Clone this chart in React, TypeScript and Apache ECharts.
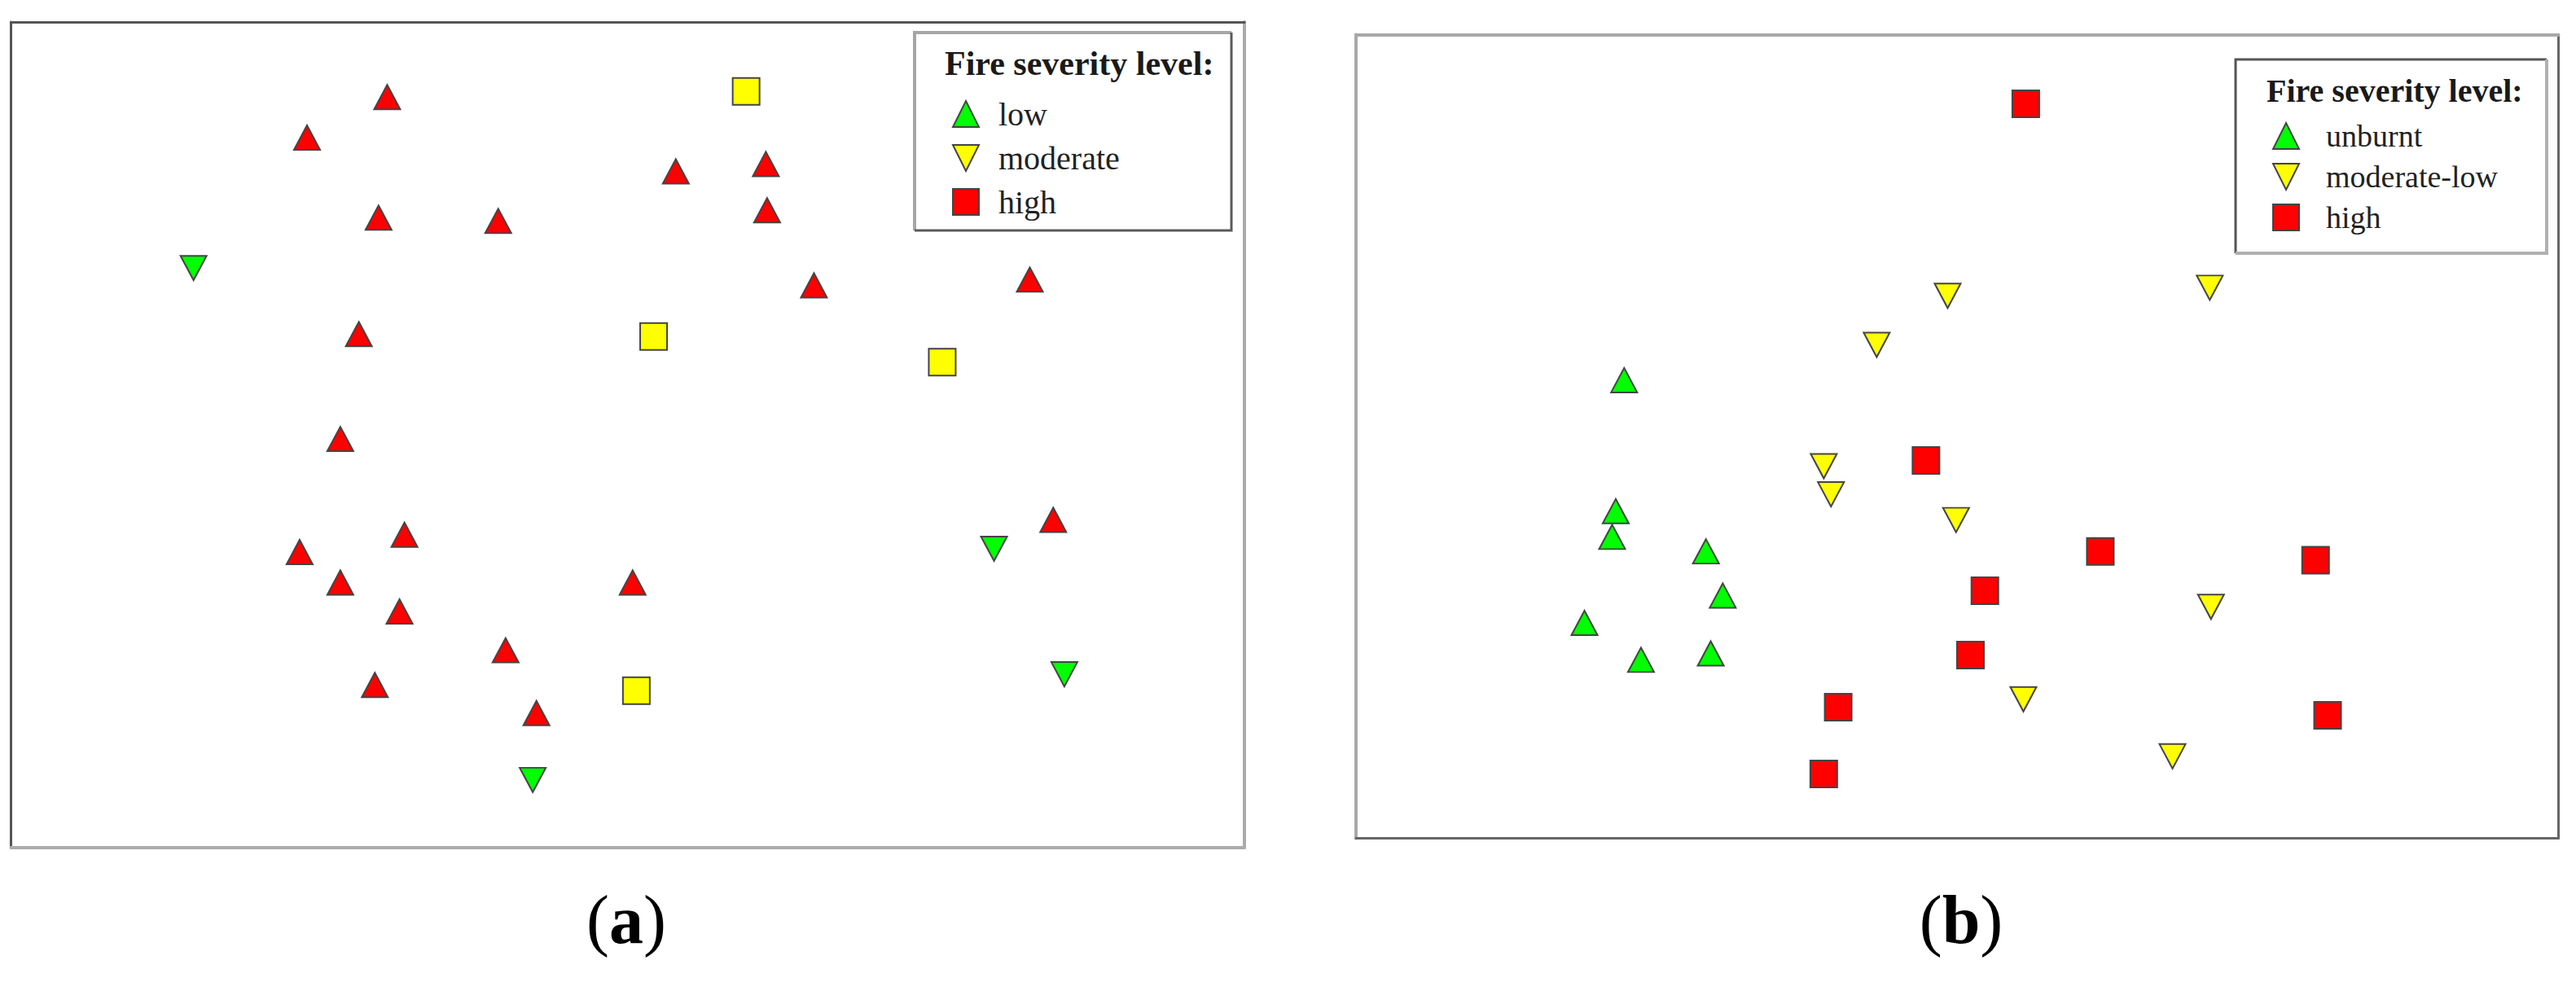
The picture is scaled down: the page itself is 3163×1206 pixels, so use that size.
import React, { useEffect, useRef } from "react";
import * as echarts from "echarts";

// Panel (a): ordination scores (0-100 scaled axes)
const aLow: [number, number][] = [
  [14.8, 70.2], [79.7, 36.2], [85.4, 21.0], [42.3, 8.2],
];
const aModerate: [number, number][] = [
  [59.6, 91.6], [52.1, 61.9], [75.5, 58.8], [50.7, 19.0],
];
const aHigh: [number, number][] = [
  [30.5, 90.9], [24.0, 86.0], [29.8, 76.3], [39.5, 75.9], [53.9, 81.9],
  [61.2, 82.8], [61.3, 77.2], [65.1, 68.1], [82.6, 68.8], [28.2, 62.2],
  [26.7, 49.5], [31.9, 37.9], [23.4, 35.8], [26.7, 32.1], [31.5, 28.6],
  [50.4, 32.1], [40.1, 23.9], [29.5, 19.7], [42.6, 16.3], [84.5, 39.7],
];

// Panel (b)
const bUnburnt: [number, number][] = [
  [22.3, 57.0], [21.6, 40.7], [21.3, 37.5], [29.1, 35.7],
  [30.5, 30.2], [19.0, 26.8], [23.7, 22.2], [29.5, 23.0],
];
const bModerateLow: [number, number][] = [
  [49.2, 67.5], [43.3, 61.4], [71.0, 68.5], [38.9, 46.3], [39.5, 42.8],
  [49.9, 39.6], [71.1, 28.8], [55.5, 17.3], [67.9, 10.2],
];
const bHigh: [number, number][] = [
  [55.7, 91.4], [47.4, 47.0], [61.9, 35.7], [52.3, 30.8], [79.8, 34.6],
  [51.1, 22.8], [40.1, 16.3], [38.9, 8.0], [80.8, 15.3],
];

const aLegendNames = ["low", "moderate", "high"];
const bLegendNames = ["unburnt", "moderate-low", "high"];
const legendTitle = "Fire severity level:";
const captions = ["a", "b"];

const DOWN_TRI = "path://M0,0L20,0L10,20Z";
const SERIF = "'Liberation Serif', 'Times New Roman', serif";
const GREEN = "#00ff00";
const YELLOW = "#ffff00";
const RED = "#ff0000";

function axis(gridIndex: number, position: string, color: string, width: number) {
  return {
    type: "value",
    gridIndex,
    position,
    min: 0,
    max: 100,
    axisLine: { show: true, onZero: false, lineStyle: { color, width } },
    axisTick: { show: false },
    axisLabel: { show: false },
    splitLine: { show: false },
  };
}

function scatter(name: string, data: [number, number][], symbol: string, size: any, color: string, idx: number) {
  return {
    type: "scatter",
    name,
    data,
    xAxisIndex: idx,
    yAxisIndex: idx,
    symbol,
    symbolSize: size,
    itemStyle: { color, borderColor: "#444", borderWidth: 2, opacity: 1 },
    emphasis: { disabled: true },
  };
}

export default function App() {
  const ref = useRef<HTMLDivElement>(null);
  useEffect(() => {
    if (!ref.current) return;
    const chart = echarts.init(ref.current, null, { renderer: "svg" });
    const triSize = [32, 30];
    const option: any = {
      animation: false,
      backgroundColor: "#ffffff",
      grid: [
        { left: 13.5, top: 27, width: 1514.5, height: 1014 },
        { left: 1665, top: 42.5, width: 1476.5, height: 987 },
      ],
      xAxis: [
        axis(0, "bottom", "#ababab", 4),
        axis(0, "top", "#555555", 3),
        axis(1, "bottom", "#666666", 3),
        axis(1, "top", "#a8a8a8", 4),
      ],
      yAxis: [
        axis(0, "left", "#555555", 3),
        axis(0, "right", "#ababab", 4),
        axis(1, "left", "#a8a8a8", 4),
        axis(1, "right", "#666666", 3),
      ],
      legend: [
        {
          orient: "vertical",
          left: 1169,
          top: 120,
          padding: 0,
          itemWidth: 32,
          itemHeight: 32,
          itemGap: 14,
          selectedMode: false,
          symbolRotate: 0,
          data: [
            { name: aLegendNames[0], icon: "triangle" },
            { name: aLegendNames[1], icon: DOWN_TRI },
            { name: aLegendNames[2], icon: "rect" },
          ],
          textStyle: { fontFamily: SERIF, fontSize: 40, color: "#222", lineHeight: 32, padding: [4, 0, 0, 19] },
        },
        {
          orient: "vertical",
          left: 2790,
          top: 146,
          padding: 0,
          itemWidth: 32,
          itemHeight: 32,
          itemGap: 8,
          selectedMode: false,
          symbolRotate: 0,
          data: [
            { name: bLegendNames[0], icon: "triangle" },
            { name: bLegendNames[1], icon: DOWN_TRI },
            { name: bLegendNames[2], icon: "rect" },
          ],
          textStyle: { fontFamily: SERIF, fontSize: 38, color: "#222", lineHeight: 32, padding: [0, 0, 10, 28] },
        },
      ],
      series: [
        scatter(aLegendNames[0], aLow, DOWN_TRI, triSize, GREEN, 0),
        scatter(aLegendNames[1], aModerate, "rect", 33, YELLOW, 0),
        scatter(aLegendNames[2], aHigh, "triangle", triSize, RED, 0),
        scatter(bLegendNames[0], bUnburnt, "triangle", triSize, GREEN, 2),
        scatter(bLegendNames[1], bModerateLow, DOWN_TRI, triSize, YELLOW, 2),
        scatter(bLegendNames[2], bHigh, "rect", 33, RED, 2),
      ],
      graphic: [
        // legend box (a)
        { type: "polyline", shape: { points: [[1123, 283], [1123, 40], [1512, 40]] }, style: { stroke: "#a6a6a6", lineWidth: 4, fill: "none" } },
        { type: "polyline", shape: { points: [[1512, 40], [1512, 283], [1123, 283]] }, style: { stroke: "#5a5a5a", lineWidth: 3, fill: "none" } },
        // legend box (b)
        { type: "polyline", shape: { points: [[2745, 311], [2745, 73], [3127, 73]] }, style: { stroke: "#555555", lineWidth: 3, fill: "none" } },
        { type: "polyline", shape: { points: [[3127, 73], [3127, 311], [2745, 311]] }, style: { stroke: "#b0b0b0", lineWidth: 4, fill: "none" } },
        {
          type: "text",
          style: { text: legendTitle, x: 1160, y: 78, verticalAlign: "middle", fill: "#1a1a1a", font: `bold 42px ${SERIF}` },
        },
        {
          type: "text",
          style: { text: legendTitle, x: 2783, y: 111, verticalAlign: "middle", fill: "#1a1a1a", font: `bold 40px ${SERIF}` },
        },
        {
          type: "text",
          style: {
            text: `{p|(}{b|${captions[0]}}{p|)}`,
            x: 769,
            y: 1129,
            align: "center",
            verticalAlign: "middle",
            fill: "#000",
            rich: {
              p: { fontSize: 84, fontFamily: SERIF, fill: "#000" },
              b: { fontSize: 84, fontFamily: SERIF, fontWeight: "bold", fill: "#000" },
            },
          },
        },
        {
          type: "text",
          style: {
            text: `{p|(}{b|${captions[1]}}{p|)}`,
            x: 2408,
            y: 1129,
            align: "center",
            verticalAlign: "middle",
            fill: "#000",
            rich: {
              p: { fontSize: 84, fontFamily: SERIF, fill: "#000" },
              b: { fontSize: 84, fontFamily: SERIF, fontWeight: "bold", fill: "#000" },
            },
          },
        },
      ],
    };
    chart.setOption(option);
    return () => chart.dispose();
  }, []);
  return (
    <div
      ref={ref}
      style={{ position: "fixed", left: 0, top: 0, width: 3163, height: 1206, background: "#fff" }}
    />
  );
}
